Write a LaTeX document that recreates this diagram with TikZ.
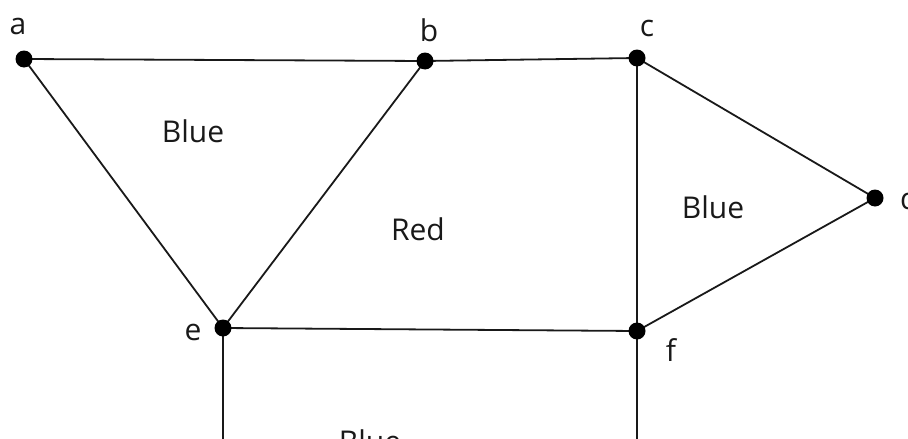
\documentclass[tikz,border=0pt]{standalone}
\usepackage{fontspec}
\setmainfont{Open Sans}
\begin{document}
\begin{tikzpicture}[x=1pt,y=-1pt,
  vtx/.style={circle,fill=black,inner sep=0pt,minimum size=17pt},
  edge/.style={draw=black!90,line width=1.8pt},
  lbl/.style={font=\fontsize{30}{32}\selectfont,text=black!90,inner sep=0pt},
  region/.style={font=\fontsize{30}{32}\selectfont,text=black!90,inner sep=0pt}]
\useasboundingbox (0,0) rectangle (908,439);
\begin{scope}
\clip (0,0) rectangle (908,439);
\coordinate (a) at (24,59);
\coordinate (b) at (425,61);
\coordinate (c) at (637,58);
\coordinate (d) at (875,198);
\coordinate (e) at (223,328);
\coordinate (f) at (637,331);
\coordinate (eb) at (223,445);
\coordinate (fb) at (637,445);
\draw[edge] (a) -- (b) -- (c) -- (d) -- (f) -- (e) -- (a);
\draw[edge] (e) -- (b);
\draw[edge] (c) -- (f);
\draw[edge] (e) -- (eb);
\draw[edge] (f) -- (fb);
\foreach \v in {a,b,c,d,e,f} \node[vtx] (n\v) at (\v) {};
\node[lbl] (la) at (18,26) {a};
\node[lbl] (lb) at (429,30) {b};
\node[lbl] (lc) at (647,28) {c};
\node[lbl,anchor=west] (ld) at (900,198) {d};
\node[lbl] (le) at (193,332) {e};
\node[lbl] (lf) at (671,350) {f};
\node[region] (r1) at (193,131) {Blue};
\node[region] (r2) at (418,229) {Red};
\node[region] (r3) at (713,207) {Blue};
\node[region] (r4) at (370,441) {Blue};
\end{scope}
\end{tikzpicture}
\end{document}
